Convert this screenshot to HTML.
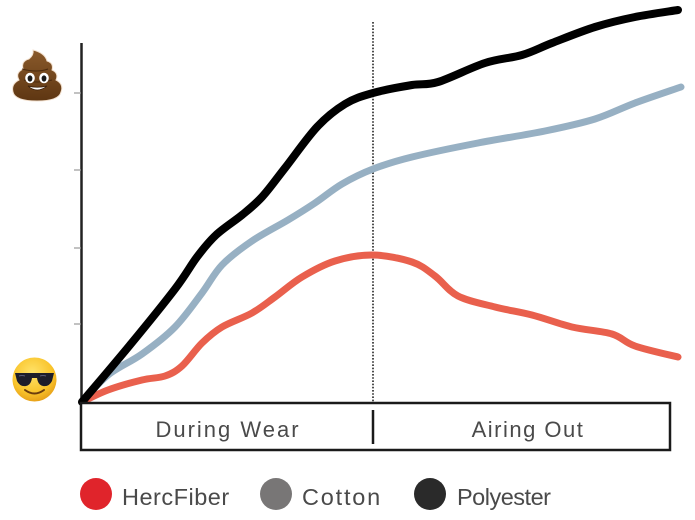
<!DOCTYPE html>
<html>
<head>
<meta charset="utf-8">
<style>
html,body{margin:0;padding:0;background:#fff;}
body{width:695px;height:520px;overflow:hidden;}
svg{display:block;}
text{font-family:"Liberation Sans",sans-serif;}
</style>
</head>
<body>
<svg width="695" height="520" viewBox="0 0 695 520" xmlns="http://www.w3.org/2000/svg">
  <defs>
    <radialGradient id="face" cx="45%" cy="35%" r="65%">
      <stop offset="0" stop-color="#ffe36a"/>
      <stop offset="0.7" stop-color="#f9c42b"/>
      <stop offset="1" stop-color="#e8a21a"/>
    </radialGradient>
    <linearGradient id="poo" x1="0" y1="0" x2="0" y2="1">
      <stop offset="0" stop-color="#8a5a2b"/>
      <stop offset="1" stop-color="#5e3612"/>
    </linearGradient>
  </defs>

  <!-- y axis -->
  <line x1="81.5" y1="43" x2="81.5" y2="403" stroke="#222" stroke-width="2.5"/>
  <!-- ticks -->
  <g stroke="#999" stroke-width="1.2">
    <line x1="74" y1="93" x2="81" y2="93"/>
    <line x1="74" y1="170" x2="81" y2="170"/>
    <line x1="74" y1="248" x2="81" y2="248"/>
    <line x1="74" y1="324" x2="81" y2="324"/>
  </g>

  <!-- dotted divider -->
  <line x1="373" y1="22" x2="373" y2="403" stroke="#222" stroke-width="1.6" stroke-dasharray="1.6 1.6"/>

  <!-- series -->
  <path id="cotton" fill="none" stroke="#97b0c3" stroke-width="7" stroke-linecap="round" stroke-linejoin="round"/>
  <path id="herc" fill="none" stroke="#e9604d" stroke-width="7" stroke-linecap="round" stroke-linejoin="round"/>
  <path id="poly" fill="none" stroke="#000" stroke-width="8" stroke-linecap="round" stroke-linejoin="round"/>

  <!-- bottom box -->
  <rect x="81" y="403" width="589" height="47" fill="#fff" stroke="#1a1a1a" stroke-width="2.5"/>
  <line x1="373" y1="410" x2="373" y2="444" stroke="#1a1a1a" stroke-width="2.5"/>
  <text x="228" y="437" font-size="22" fill="#4a4a4a" text-anchor="middle" letter-spacing="2">During Wear</text>
  <text x="528" y="437" font-size="22" fill="#4a4a4a" text-anchor="middle" letter-spacing="1.5">Airing Out</text>

  <!-- legend -->
  <circle cx="96" cy="494" r="16" fill="#e0242b"/>
  <text x="122" y="505" font-size="23.5" fill="#4a4a4a" letter-spacing="0.5">HercFiber</text>
  <circle cx="276" cy="494" r="16" fill="#787676"/>
  <text x="302" y="505" font-size="23.5" fill="#4a4a4a" letter-spacing="1.8">Cotton</text>
  <circle cx="430" cy="494" r="16" fill="#2a2a2a"/>
  <text x="457" y="505" font-size="23.5" fill="#4a4a4a" letter-spacing="-0.5">Polyester</text>

  <!-- poop emoji -->
  <g>
    <path d="M13 92 Q11 84 19 80 Q15 73 23 69 Q21 61 29 59 Q34 55 33 50 Q45 53 47 61 Q54 63 52 70 Q59 73 56 80 Q64 84 61 92 Q59 101 37 101 Q15 101 13 92 Z" fill="url(#poo)" stroke="#f3e1cf" stroke-width="1"/>
    <path d="M24 80 Q37 84 52 80" fill="none" stroke="#4a2a0e" stroke-width="1"/>
    <path d="M22 69 Q37 73 48 69" fill="none" stroke="#4a2a0e" stroke-width="1"/>
    <ellipse cx="30" cy="78" rx="4.8" ry="5.3" fill="#fff"/>
    <ellipse cx="44" cy="78" rx="4.8" ry="5.3" fill="#fff"/>
    <ellipse cx="30" cy="78.5" rx="2.4" ry="3.1" fill="#1a1a1a"/>
    <ellipse cx="44" cy="78.5" rx="2.4" ry="3.1" fill="#1a1a1a"/>
    <path d="M28 86 Q37 94 47 86 Q37 88.5 28 86 Z" fill="#fff" stroke="#3a1e08" stroke-width="0.8"/>
  </g>

  <!-- sunglasses emoji -->
  <g>
    <circle cx="34.5" cy="379.5" r="22" fill="url(#face)"/>
    <path d="M15 373 L54 373 L52 381 Q49 387 43 386 Q38 385 37 378 L32 378 Q31 385 26 386 Q20 387 17 381 Z" fill="#1d1d2a"/>
    <path d="M19 376 Q22 375 25 376" stroke="#5a5a7a" stroke-width="1" fill="none"/>
    <path d="M40 376 Q43 375 46 376" stroke="#5a5a7a" stroke-width="1" fill="none"/>
    <path d="M25 390 Q34.5 397 44 390" fill="none" stroke="#6b3d0e" stroke-width="2" stroke-linecap="round"/>
  </g>
</svg>
<script>
function cr(p){
  var d="M"+p[0][0]+" "+p[0][1];
  for(var i=0;i<p.length-1;i++){
    var p0=p[i-1]||p[i],p1=p[i],p2=p[i+1],p3=p[i+2]||p2;
    var c1x=p1[0]+(p2[0]-p0[0])/6,c1y=p1[1]+(p2[1]-p0[1])/6;
    var c2x=p2[0]-(p3[0]-p1[0])/6,c2y=p2[1]-(p3[1]-p1[1])/6;
    d+=" C"+c1x.toFixed(1)+" "+c1y.toFixed(1)+" "+c2x.toFixed(1)+" "+c2y.toFixed(1)+" "+p2[0]+" "+p2[1];
  }
  return d;
}
var poly=[[82,402],[130,345],[175,289],[197,257],[216,235],[242,215],[262,197],[285,168],[317,127],[345,104],[373,93],[412,85],[438,82],[485,63],[522,55],[552,43],[595,27],[635,17],[678,10]];
var cotton=[[82,402],[108,375],[142,354],[175,327],[202,293],[222,265],[252,241],[288,220],[315,203],[342,184],[373,169],[412,157],[478,143],[545,131],[595,119],[635,103],[681,87]];
var herc=[[82,402],[108,390],[142,380],[165,376],[182,366],[202,343],[222,327],[252,313],[275,297],[302,277],[335,261],[373,255],[412,262],[435,276],[458,296],[495,307],[532,315],[572,327],[612,334],[635,346],[678,357]];
document.getElementById('poly').setAttribute('d',cr(poly));
document.getElementById('cotton').setAttribute('d',cr(cotton));
document.getElementById('herc').setAttribute('d',cr(herc));
</script>
</body>
</html>
